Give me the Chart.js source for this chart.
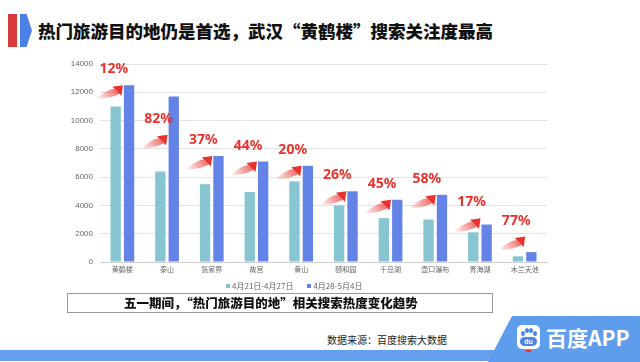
<!DOCTYPE html>
<html>
<head>
<meta charset="utf-8">
<script src="https://cdn.jsdelivr.net/npm/chart.js@4"></script>
<style>
  html, body { margin: 0; padding: 0; background: #fff; }
  body { width: 640px; height: 362px; position: relative; overflow: hidden;
         font-family: "Noto Sans CJK SC", "Noto Sans", sans-serif; }
  #chart-wrap { position: absolute; left: 0; top: 0; width: 640px; height: 300px; }
  .mark-red { position: absolute; left: 8px; top: 14px; width: 9px; height: 33px; background: #d93a3b; }
  .mark-blue { position: absolute; left: 20px; top: 14px; width: 12px; height: 33px; background: #4a80e8;
               clip-path: polygon(0 0, 55% 0, 100% 50%, 55% 100%, 0 100%); }
  .title { position: absolute; left: 38px; top: 18px; font-size: 17.5px; font-weight: 900; color: #111;
           white-space: nowrap; line-height: 26px; }
  .legend { position: absolute; left: 226px; top: 280px; font-size: 8px; color: #666; white-space: nowrap; }
  .legend span.item { margin-right: 14px; }
  .legend i { display: inline-block; width: 4px; height: 4px; margin-right: 2px; vertical-align: 1px; }
  .subtitle { position: absolute; left: 67px; top: 293px; width: 424px; height: 18px; border: 1px solid #999;
              text-align: center; font-size: 12.5px; font-weight: 900; line-height: 18px; color: #111; }
  .subtitle span { position: relative; left: -9px; }
  .source { position: absolute; left: 327px; top: 332px; font-size: 10px; color: #222; line-height: 16px; }
  .band { position: absolute; left: 0; top: 350px; width: 640px; height: 11px; background: #64a0ee; }
  .tab { position: absolute; left: 488px; top: 316px; width: 160px; height: 46px; background: #5e9cec;
         clip-path: polygon(24px 0, 100% 0, 100% 100%, 0 100%); border-top-left-radius: 6px; }
  .logo { position: absolute; left: 517px; top: 325px; width: 23px; height: 24px; background: #fff; border-radius: 5px; }
  .logo b { position: absolute; left: 3px; top: 12px; width: 17px; height: 9px; border-radius: 5px; background: #4a86e8;
            color: #fff; font-size: 7px; line-height: 9px; text-align: center; font-weight: bold; font-family: "Liberation Sans", sans-serif; }
  .logo em { position: absolute; width: 4px; height: 5px; border-radius: 50%; background: #4a86e8; }
  .logo .red { position: absolute; left: 9px; top: 25px; width: 5px; height: 2px; background: #e33; }
  .app { position: absolute; left: 546px; top: 323px; font-size: 21px; font-weight: bold; color: #fff; line-height: 28px; white-space: nowrap; }
</style>
</head>
<body>
<div class="mark-red"></div>
<div class="mark-blue"></div>
<div class="title">热门旅游目的地仍是首选，武汉“黄鹤楼”搜索关注度最高</div>

<div id="chart-wrap"><canvas id="barChart"></canvas></div>

<div class="legend" id="legend"></div>
<div class="subtitle"><span>五一期间，“热门旅游目的地”相关搜索热度变化趋势</span></div>

<div class="band"></div>
<div class="tab"></div>
<div class="source">数据来源：百度搜索大数据</div>
<div class="logo">
  <em style="left:4px;top:6px"></em><em style="left:8px;top:3px"></em>
  <em style="left:12px;top:3px"></em><em style="left:16px;top:6px"></em>
  <b>du</b><div class="red"></div>
</div>
<div class="app">百度APP</div>

<script>
// Données
const categories = ['黄鹤楼', '泰山', '张家界', '故宫', '黄山', '颐和园', '千岛湖', '壶口瀑布', '青海湖', '木兰天池'];
const seriesNames = ['4月21日-4月27日', '4月28-5月4日'];
const weekBefore = [11000, 6400, 5500, 4950, 5700, 4000, 3100, 3000, 2100, 400];
const holidayWeek = [12500, 11700, 7500, 7100, 6800, 5000, 4400, 4750, 2650, 700];
const growth = [12, 82, 37, 44, 20, 26, 45, 58, 17, 77];
const yTicks = [0, 2000, 4000, 6000, 8000, 10000, 12000, 14000];

const colors = ['#86c5d1', '#6483e7'];
const RED = '#e8322d';

// Légende HTML
document.getElementById('legend').innerHTML = seriesNames.map((name, i) =>
    `<span class="item"><i style="background:${colors[i]}"></i>${name}</span>`).join('');

// Flèches rouges + pourcentages au-dessus de chaque paire
const growthArrows = {
    id: 'growthArrows',
    afterDatasetsDraw(chart) {
        const ctx = chart.ctx;
        const yScale = chart.scales.y;
        const bars = chart.getDatasetMeta(1).data;
        ctx.save();
        bars.forEach((bar, i) => {
            const darkLeft = bar.x - bar.width / 2;
            const level = Math.max(Math.min(holidayWeek[i], weekBefore[i] + 2600), weekBefore[i] + 1000, 1800);
            const tx = darkLeft - 1;
            const ty = yScale.getPixelForValue(level);

            // corps de la flèche (dégradé)
            const tailX = tx - 27, tailY = ty + 14;
            const hx = tx - 6, hy = ty + 6;
            const grad = ctx.createLinearGradient(tailX, tailY, tx, ty);
            grad.addColorStop(0, 'rgba(232,50,45,0)');
            grad.addColorStop(0.6, 'rgba(232,50,45,0.55)');
            grad.addColorStop(1, 'rgba(232,50,45,1)');
            ctx.fillStyle = grad;
            ctx.beginPath();
            ctx.moveTo(tailX, tailY);
            ctx.quadraticCurveTo(tx - 16, ty + 4, hx - 2.5, hy - 2.5);
            ctx.lineTo(hx + 2.5, hy + 2.5);
            ctx.quadraticCurveTo(tx - 12, ty + 13, tailX, tailY);
            ctx.closePath();
            ctx.fill();

            // pointe
            ctx.fillStyle = RED;
            ctx.beginPath();
            ctx.moveTo(tx, ty);
            ctx.lineTo(hx + 4.5, hy + 4.5);
            ctx.lineTo(hx - 4.5, hy - 4.5);
            ctx.closePath();
            ctx.fill();

            // pourcentage
            ctx.fillStyle = RED;
            ctx.font = 'bold 14px "Noto Sans", sans-serif';
            ctx.textAlign = 'center';
            ctx.textBaseline = 'middle';
            ctx.fillText(growth[i] + '%', darkLeft - 10, ty - 16);
        });
        ctx.restore();
    }
};

const ctx = document.getElementById('barChart');
new Chart(ctx, {
    type: 'bar',
    data: {
        labels: categories,
        datasets: [
            { label: seriesNames[0], data: weekBefore, backgroundColor: colors[0] },
            { label: seriesNames[1], data: holidayWeek, backgroundColor: colors[1] }
        ]
    },
    options: {
        responsive: true,
        maintainAspectRatio: false,
        animation: false,
        datasets: {
            bar: { categoryPercentage: 0.6, barPercentage: 0.77 }
        },
        layout: { padding: { left: 55, right: 93, top: 64, bottom: 20 } },
        plugins: {
            legend: { display: false },
            tooltip: { enabled: false }
        },
        scales: {
            x: {
                grid: { display: false, drawTicks: false },
                border: { color: '#cfcfcf' },
                ticks: { color: '#666', font: { size: 7, family: '"Noto Sans CJK SC", sans-serif' }, padding: 3, maxRotation: 0 },
                afterFit(scale) { scale.height = 18; }
            },
            y: {
                min: 0,
                max: 14000,
                afterBuildTicks(scale) { scale.ticks = yTicks.map(v => ({ value: v })); },
                grid: { color: '#e3e3e3', drawTicks: false },
                border: { display: false },
                ticks: {
                    color: '#666',
                    font: { size: 8, family: '"Liberation Sans", sans-serif' },
                    padding: 7,
                    callback: v => String(v)
                },
                afterFit(scale) { scale.width = 45; }
            }
        }
    },
    plugins: [growthArrows]
});
</script>
</body>
</html>
